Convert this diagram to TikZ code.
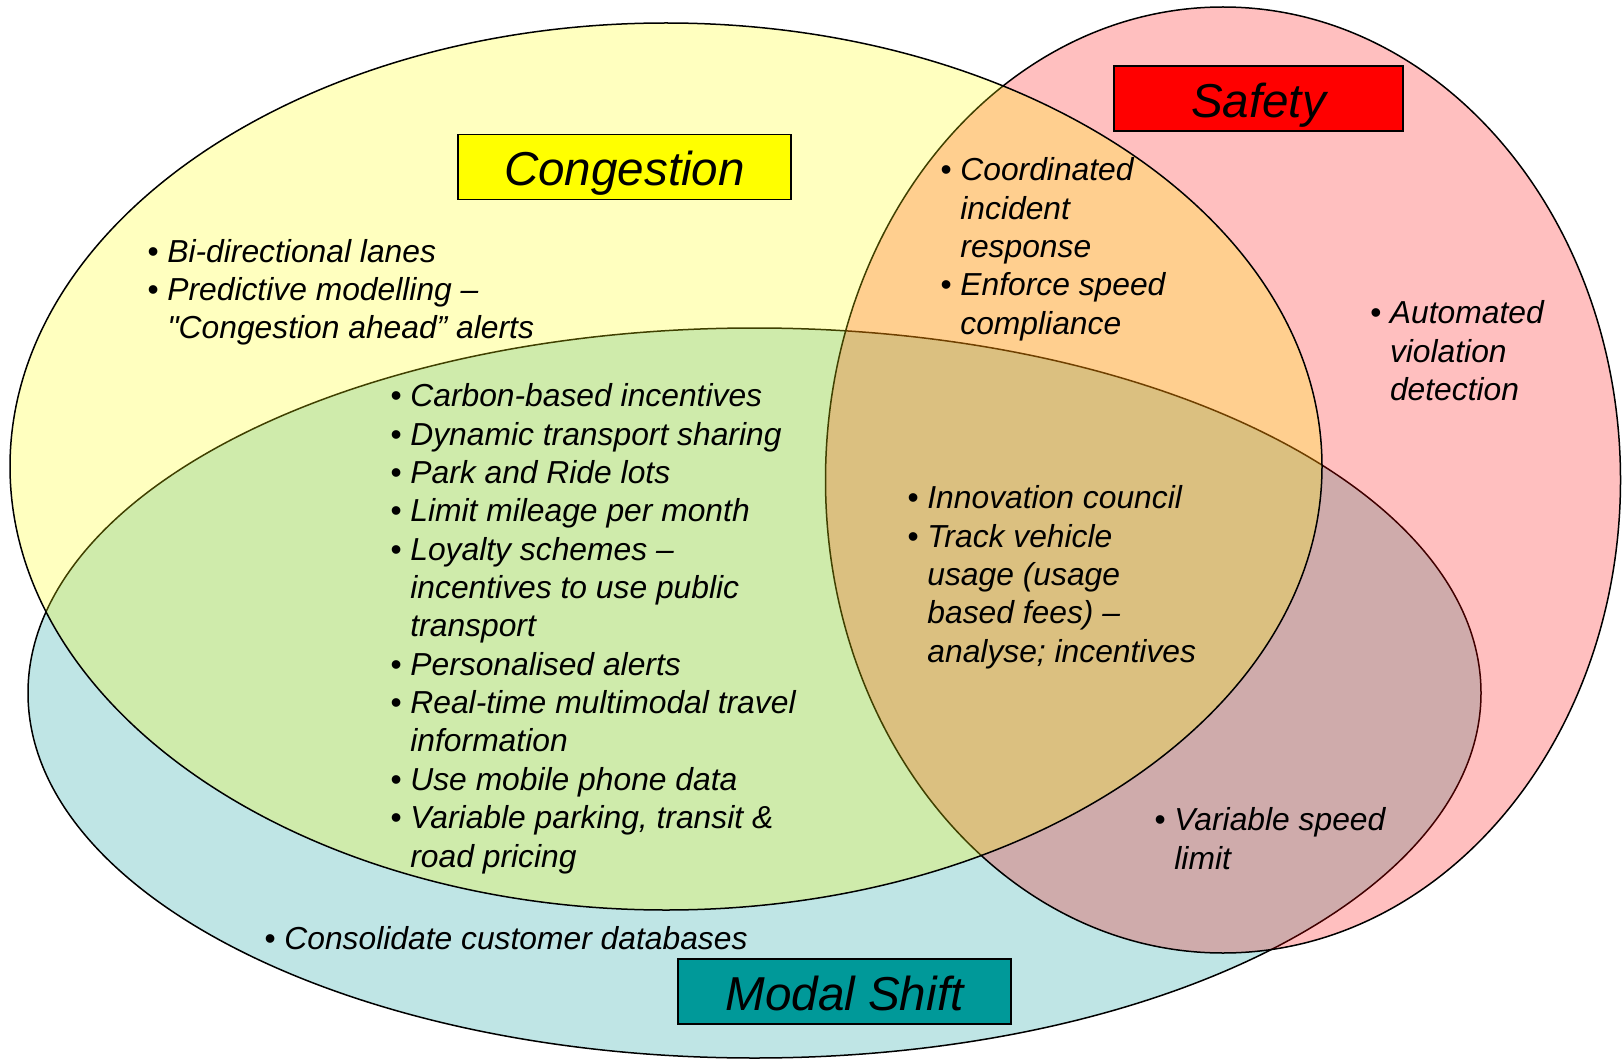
\documentclass[tikz,border=0pt]{standalone}
\usepackage{fontspec}
\setmainfont{Liberation Sans}[Ligatures=TeXOff]
\usepackage{tikz}
\definecolor{congyellow}{HTML}{FFFF00}
\definecolor{safetyred}{HTML}{FF0000}
\definecolor{modalteal}{HTML}{009999}
\tikzstyle{area} = [draw=black, line width=0.75pt, fill opacity=0.25]
\tikzstyle{heading} = [rectangle, draw=black, line width=0.9pt, minimum height=32.5pt, text height=19pt, text depth=0pt, font=\fontsize{23.8}{28}\selectfont\itshape]
\tikzstyle{items} = [anchor=north west, inner sep=0pt, align=left, font=\fontsize{15.9}{19.18}\selectfont\itshape]
\newcommand{\bul}{\strut\makebox[10pt][l]{•}}
\newcommand{\cont}{\strut\hspace*{10pt}}

\begin{document}
\begin{tikzpicture}[x=0.5pt,y=-0.5pt]
\useasboundingbox (0,0) rectangle (1622,1059);
\fill[white] (0,0) rectangle (1622,1059);
\draw[area, fill=modalteal] (754.5,693) ellipse [x radius=726.5, y radius=365];
\draw[area, fill=safetyred] (1223,480) ellipse [x radius=397.5, y radius=473];
\draw[area, fill=congyellow] (666,466.5) ellipse [x radius=656, y radius=443.5];
\node (congestion) at (624.5,167) [heading, fill=congyellow, minimum width=166.5pt] {Congestion};
\node (safety) at (1258.5,98.5) [heading, fill=safetyred, minimum width=144.5pt] {Safety};
\node (modalshift) at (844.5,991.5) [heading, fill=modalteal, minimum width=166.5pt] {Modal Shift};
\node (congitems) at (147,235) [items] {\bul Bi-directional lanes\\\bul Predictive modelling –\\\cont "Congestion ahead” alerts};
\node (cmitems) at (390,379.5) [items] {\bul Carbon-based incentives\\\bul Dynamic transport sharing\\\bul Park and Ride lots\\\bul Limit mileage per month\\\bul Loyalty schemes –\\\cont incentives to use public\\\cont transport\\\bul Personalised alerts\\\bul Real-time multimodal travel\\\cont information\\\bul Use mobile phone data\\\bul Variable parking, transit \&\\\cont road pricing};
\node (csitems) at (940,153.5) [items] {\bul Coordinated\\\cont incident\\\cont response\\\bul Enforce speed\\\cont compliance};
\node (safetyitems) at (1369.6,296.5) [items] {\bul Automated\\\cont violation\\\cont detection};
\node (allitems) at (907,481.5) [items] {\bul Innovation council\\\bul Track vehicle\\\cont usage (usage\\\cont based fees) –\\\cont analyse; incentives};
\node (smitems) at (1154,803.5) [items] {\bul Variable speed\\\cont limit};
\node (modalitems) at (264,922.5) [items] {\bul Consolidate customer databases};
\end{tikzpicture}
\end{document}
